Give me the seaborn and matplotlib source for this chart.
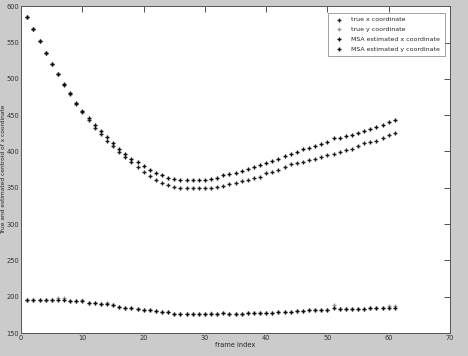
import numpy as np
import pandas as pd
import seaborn as sns
import matplotlib
matplotlib.use("Agg")
import matplotlib.pyplot as plt

# Frame indices 1..61
frames = list(range(1, 62))

# Upper pair: x coordinate centroids
msa_x = [585, 568, 552, 536, 521, 507, 493, 480, 467, 456,
         446, 436, 428, 420, 412, 404, 397, 390, 385, 380,
         375, 371, 367, 364, 362, 361, 361, 361, 361, 361,
         362, 363, 367, 369, 371, 373, 376, 379, 381, 384,
         387, 390, 394, 396, 399, 403, 405, 408, 410, 413,
         418, 418, 421, 422, 426, 428, 431, 434, 437, 440, 443]
true_x = [585, 568, 552, 536, 521, 507, 492, 479, 466, 454,
          443, 432, 424, 415, 407, 399, 392, 385, 378, 372,
          366, 361, 357, 354, 351, 350, 349, 349, 349, 349,
          350, 351, 353, 355, 357, 359, 360, 363, 365, 370,
          372, 375, 379, 383, 384, 386, 388, 390, 393, 395,
          397, 399, 402, 404, 408, 411, 413, 415, 418, 422, 426]

# Lower pair: y coordinate centroids
msa_y = [195, 195, 195, 195, 195, 196, 196, 194, 194, 194,
         191, 191, 190, 190, 189, 186, 184, 184, 183, 182,
         182, 180, 179, 179, 176, 176, 176, 176, 176, 176,
         176, 176, 177, 176, 176, 176, 177, 177, 177, 178,
         178, 179, 179, 179, 180, 180, 181, 181, 182, 182,
         184, 183, 183, 183, 183, 183, 184, 184, 184, 185, 185]
true_y = [196, 196, 196, 196, 196, 198, 198, 194, 194, 195,
          192, 191, 190, 192, 189, 186, 184, 184, 183, 182,
          182, 180, 179, 179, 176, 176, 176, 176, 176, 176,
          178, 176, 177, 176, 176, 176, 177, 178, 177, 178,
          178, 179, 179, 179, 180, 180, 181, 181, 182, 182,
          188, 183, 183, 183, 183, 183, 184, 184, 184, 187, 187]

series = [
    ("true x coordinate", true_x, "#202020"),
    ("true y coordinate", true_y, "#9a9a9a"),
    ("MSA estimated x coordinate", msa_x, "#101010"),
    ("MSA estimated y coordinate", msa_y, "#101010"),
]

sns.set_style("white")
plt.rcParams["font.family"] = ["DejaVu Sans"]

fig = plt.figure(figsize=(4.68, 3.56), dpi=100, facecolor="#cbcbcb")
ax = fig.add_axes([0.0453, 0.0646, 0.9162, 0.918])
ax.set_facecolor("white")

for label, vals, col in series:
    sns.scatterplot(x=frames, y=vals, marker="+", color=col, s=9,
                    linewidth=1.0, label=label, ax=ax)

ax.set_xlim(0, 70)
ax.set_ylim(150, 600)
ax.set_xticks(range(0, 71, 10))
ax.set_yticks(range(150, 601, 50))
ax.tick_params(direction="in", length=4, width=0.6, labelsize=4.8,
               top=True, right=True, pad=1.5, colors="#333333")
for sp in ax.spines.values():
    sp.set_color("#555555")
    sp.set_linewidth(0.7)

ax.set_xlabel("frame index", fontsize=4.8, labelpad=1)
ax.set_ylabel("True and estimated centroid of x coordinate", fontsize=4.2, labelpad=0.5)

leg = ax.legend(loc="upper right", bbox_to_anchor=(0.995, 0.99), fontsize=4.5,
                frameon=True, fancybox=False, borderpad=0.7, labelspacing=0.7,
                handletextpad=1.0, markerscale=1.0)
leg.get_frame().set_edgecolor("#777777")
leg.get_frame().set_linewidth(0.6)

fig.savefig("out.png", dpi=100, facecolor=fig.get_facecolor())
